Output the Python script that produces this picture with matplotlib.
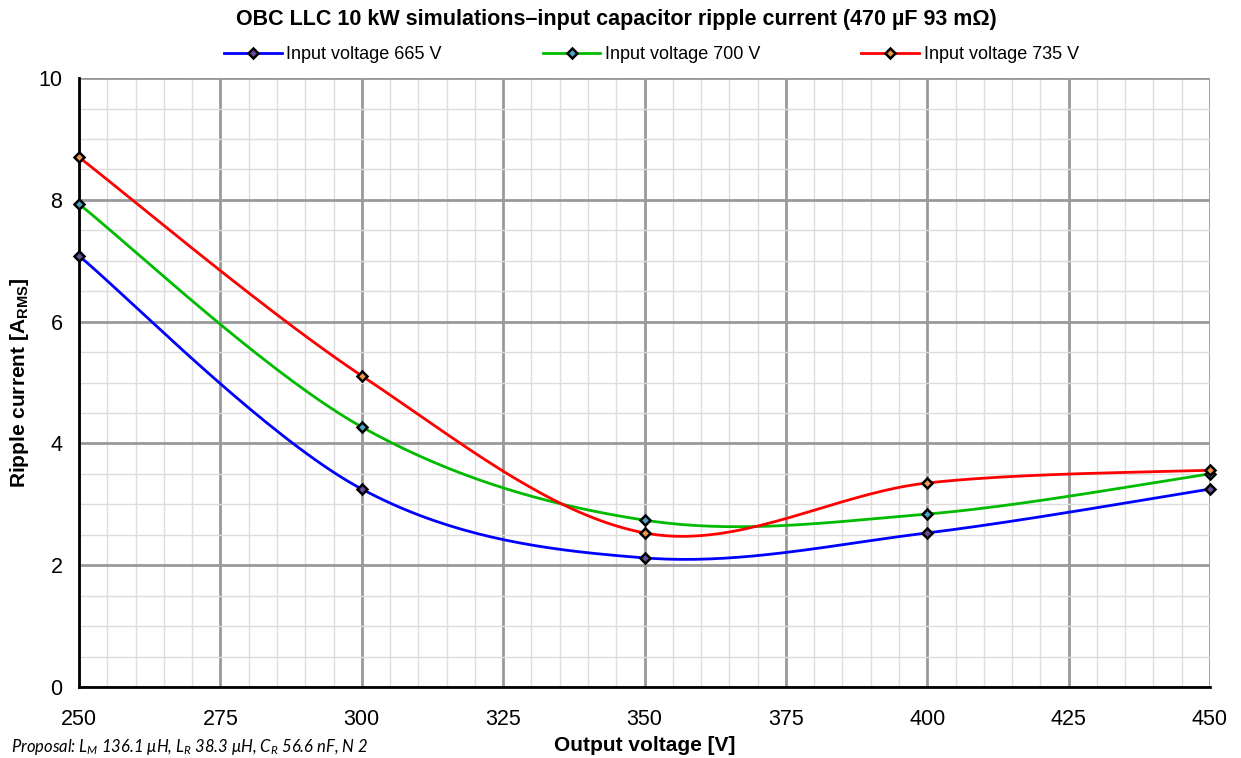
import numpy as np
import matplotlib
matplotlib.use("Agg")
import matplotlib.pyplot as plt
from matplotlib.ticker import MultipleLocator

plt.rcParams['font.family'] = ['Liberation Sans', 'DejaVu Sans']
plt.rcParams['mathtext.fontset'] = 'custom'
plt.rcParams['mathtext.rm'] = 'Liberation Sans'
plt.rcParams['mathtext.bf'] = 'Liberation Sans:bold'
plt.rcParams['mathtext.it'] = 'Lato:italic'

# Datos
output_voltage = [250, 300, 350, 400, 450]
ripple_665 = [7.08, 3.25, 2.12, 2.53, 3.25]
ripple_700 = [7.93, 4.27, 2.74, 2.84, 3.50]
ripple_735 = [8.70, 5.11, 2.53, 3.35, 3.56]

series = [
    ('Input voltage 665 V', ripple_665, '#0000ff', '#6a4c9c'),
    ('Input voltage 700 V', ripple_700, '#00bb00', '#4aa6c4'),
    ('Input voltage 735 V', ripple_735, '#ff0000', '#f0954a'),
]


# Suavizado tipo Excel (Catmull-Rom con curvas de Bezier)
def smooth(xs, ys, n=40):
    p = np.column_stack([xs, ys]).astype(float)
    p_ext = np.vstack([p[0], p, p[-1]])
    out = []
    for i in range(len(p) - 1):
        p0, p1, p2, p3 = p_ext[i], p_ext[i + 1], p_ext[i + 2], p_ext[i + 3]
        c1 = p1 + (p2 - p0) / 6
        c2 = p2 - (p3 - p1) / 6
        t = np.linspace(0, 1, n)[:, None]
        seg = ((1 - t) ** 3) * p1 + 3 * ((1 - t) ** 2) * t * c1 + 3 * (1 - t) * t ** 2 * c2 + t ** 3 * p2
        out.append(seg if i == 0 else seg[1:])
    out = np.vstack(out)
    return out[:, 0], out[:, 1]


fig = plt.figure(figsize=(12.41, 7.58), dpi=100)
ax = fig.add_axes([0.0637, 0.0937, 0.9113, 0.8033])

for label, vals, color, face in series:
    sx, sy = smooth(output_voltage, vals)
    ax.plot(sx, sy, color=color, lw=2, zorder=3)
    ax.plot(output_voltage, vals, linestyle='none', marker='D', markersize=5,
            markerfacecolor=face, markeredgecolor='black', markeredgewidth=1.8, zorder=4, clip_on=False)
    ax.plot([], [], color=color, lw=2, marker='D', markersize=5,
            markerfacecolor=face, markeredgecolor='black', markeredgewidth=1.8, label=label)

ax.set_xlim(250, 450)
ax.set_ylim(0, 10)
ax.xaxis.set_major_locator(MultipleLocator(25))
ax.xaxis.set_minor_locator(MultipleLocator(5))
ax.yaxis.set_major_locator(MultipleLocator(2))
ax.yaxis.set_minor_locator(MultipleLocator(0.5))
ax.grid(which='major', color='#999999', lw=2, zorder=1)
ax.grid(which='minor', color='#dddddd', lw=1, zorder=0)
ax.set_axisbelow(True)
ax.spines['top'].set_visible(False)
ax.spines['right'].set_visible(False)
ax.spines['left'].set_linewidth(2)
ax.spines['bottom'].set_linewidth(2)
ax.tick_params(which='both', length=0, labelsize=15.5)
ax.tick_params(axis='x', pad=16)
ax.tick_params(axis='y', pad=12)

ax.set_xlabel('Output voltage [V]', fontsize=15, fontweight='bold', labelpad=4)
ax.set_ylabel(r'Ripple current [A$_{\mathbf{RMS}}$]', fontsize=15, fontweight='bold', labelpad=5)
fig.suptitle('OBC LLC 10 kW simulations\u2013input capacitor ripple current (470 \u00b5F 93 m\u03a9)',
             x=0.497, y=0.988, fontsize=15.5, fontweight='bold')
ax.legend(loc='lower center', bbox_to_anchor=(0.506, 0.998), ncol=3, frameon=False,
          fontsize=13, columnspacing=5.6, handlelength=3.2, handletextpad=0.25)

fig.text(0.009, 0.008, r'Proposal: $L_M$ 136.1 $\mu$H, $L_R$ 38.3 $\mu$H, $C_R$ 56.6 nF, N 2',
         fontsize=12, family='Lato', style='italic')

fig.savefig('out.png', dpi=100)
